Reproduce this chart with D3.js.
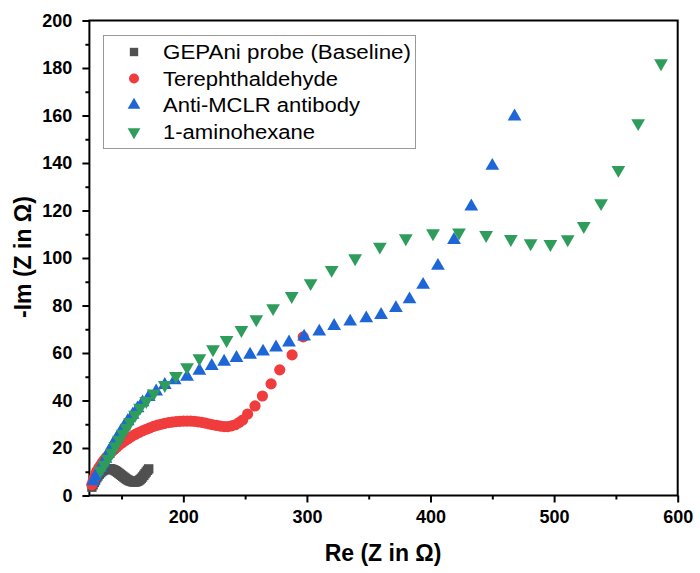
<!DOCTYPE html>
<html>
<head>
<meta charset="utf-8">
<script src="https://cdn.jsdelivr.net/npm/d3@7"></script>
<style>
  html, body { margin: 0; padding: 0; background: #fff; }
  svg { display: block; font-family: "Liberation Sans", Arial, sans-serif; }
</style>
</head>
<body>
<svg id="chart" width="700" height="573"></svg>
<script>
// ---- data (Re, -Im) ----
const seriesNames = ["GEPAni probe (Baseline)", "Terephthaldehyde", "Anti-MCLR antibody", "1-aminohexane"];

const baselineData = [[126,3.5],[127,4.5],[128,5.5],[129,6.5],[130,7.5],[131,8.3],[132,9],[133,9.6],[134,10.1],[135,10.5],[136,10.8],[137,11],[138,11.2],[139,11.3],[140,11.3],[141,11.2],[142,11.1],[143,10.9],[144,10.7],[145,10.4],[146,10.1],[147,9.7],[148,9.3],[149,8.9],[150,8.5],[151,8.1],[152,7.7],[153,7.3],[154,6.9],[155,6.6],[156,6.3],[157,6.1],[158,5.9],[159,5.8],[160,5.7],[161,5.7],[162,5.8],[163,6],[164,6.3],[165,6.7],[166,7.2],[167,7.8],[168,8.5],[169,9.2],[170,9.9],[171,10.6],[172,11.2]];

const terephData = [[126,4.5],[127,6],[128,7.5],[129,9],[130,10.2],[131.5,11.5],[133,12.7],[134.5,13.9],[136,15],[138,16.2],[140,17.3],[142,18.4],[144,19.4],[146,20.3],[148,21.2],[150.5,22.2],[153,23.1],[155.5,24],[158,24.8],[161,25.7],[164,26.5],[167,27.2],[170,27.9],[173,28.5],[176,29.1],[179,29.6],[182,30],[185,30.4],[188,30.7],[191,30.9],[194,31.1],[197,31.2],[200,31.3],[203,31.3],[206,31.3],[209,31.2],[212,31],[215,30.8],[218,30.5],[221,30.1],[224,29.8],[227,29.5],[230,29.2],[233,29],[236,29],[239,29.3],[242,29.8],[245,30.7],[248,31.8],[252,34.3],[258,37.7],[264,41.9],[271,47],[278,52.9],[288,59.2],[297,66.8]];

const antibodyData = [[127,6],[129,8],[131,10],[133,11.7],[135,13.5],[137,15.5],[139,17.5],[141,19.5],[143,21.5],[146,24],[149,26.5],[152,29],[155,31.3],[159,34],[163,36.7],[167,39.2],[172,41.5],[178,43.8],[185,46.5],[193,48.5],[203,50],[213,52.5],[223,54.5],[233,56.3],[243,57.9],[254,59.3],[264.5,60.6],[275,62.3],[285.5,64.4],[297.7,66.9],[310,69],[322,71.4],[335,73.2],[348,74.6],[360,76],[372,78.9],[383,82.6],[394,88.7],[406,96.7],[419,107.6],[433,121.7],[450,138.8],[468,159.6]];

const aminoData = [[133,10.5],[136,13],[139,15.5],[142,18],[145,20.8],[148,23.5],[151,26],[154,28.5],[157,31],[161,34],[165,37],[170,39.8],[176,43],[185,46.5],[194,50.3],[203,54],[213,57.8],[224,61.6],[235,65.5],[247,69.7],[259,74.2],[272.6,78.9],[287.7,84],[303,89.4],[320,95],[339,99.9],[359,104.8],[380,108.3],[402,110.4],[423,110.7],[445,109.7],[465,108],[481,106.2],[497,105.9],[511,107.9],[524,113.5],[538,123.1],[552,137.1],[568,156.8],[586.5,182]];

const xTicks = [200, 300, 400, 500, 600];
const xMinorTicks = [150, 250, 350, 450, 550];
const yTicks = [0, 20, 40, 60, 80, 100, 120, 140, 160, 180, 200];
const yMinorTicks = [10, 30, 50, 70, 90, 110, 130, 150, 170, 190];

const colors = ["#505050", "#f03c3c", "#1e66d8", "#2e9d5c"];

// ---- layout ----
const svg = d3.select("#chart");
const mLeft = 89.4, mRight = 677.7, mTop = 20.5, mBottom = 495.5;

const x = d3.scaleLinear().domain([124, 600]).range([mLeft, mRight]);
const y = d3.scaleLinear().domain([0, 200]).range([mBottom, mTop]);

// axes
const xAxis = svg.append("g").attr("transform", `translate(0,${mBottom})`)
  .call(d3.axisBottom(x).tickValues(xTicks).tickSize(7).tickPadding(8).tickFormat(d3.format("d")));
const xMinor = svg.append("g").attr("transform", `translate(0,${mBottom})`)
  .call(d3.axisBottom(x).tickValues(xMinorTicks).tickSize(4).tickFormat(""));
const yAxis = svg.append("g").attr("transform", `translate(${mLeft},0)`)
  .call(d3.axisLeft(y).tickValues(yTicks).tickSize(7).tickPadding(10).tickFormat(d3.format("d")));
const yMinor = svg.append("g").attr("transform", `translate(${mLeft},0)`)
  .call(d3.axisLeft(y).tickValues(yMinorTicks).tickSize(4).tickFormat(""));

[xAxis, xMinor, yAxis, yMinor].forEach(g => {
  g.select(".domain").remove();
  g.selectAll(".tick line").attr("stroke", "#000").attr("stroke-width", 2);
  g.selectAll("text").attr("font-family", "'Liberation Sans', Arial, sans-serif")
    .attr("font-size", 18).attr("font-weight", "bold").attr("fill", "#000");
});

// frame
svg.append("rect").attr("x", mLeft).attr("y", mTop)
  .attr("width", mRight - mLeft).attr("height", mBottom - mTop)
  .attr("fill", "none").attr("stroke", "#000").attr("stroke-width", 2);

// axis titles
svg.append("text").attr("x", (mLeft + mRight) / 2 - 0.5).attr("y", 561)
  .attr("text-anchor", "middle").attr("font-size", 23).attr("font-weight", "bold")
  .text("Re (Z in Ω)");
svg.append("text").attr("transform", `translate(31,257) rotate(-90)`)
  .attr("text-anchor", "middle").attr("font-size", 23).attr("font-weight", "bold")
  .text("-Im (Z in Ω)");

// markers
const plot = svg.append("g");
const sq = d3.symbol().type(d3.symbolSquare).size(88);
const tri = d3.symbol().type(d3.symbolTriangle).size(82);

plot.append("g").selectAll("path").data(baselineData).join("path")
  .attr("d", sq).attr("fill", colors[0])
  .attr("transform", d => `translate(${x(d[0])},${y(d[1])})`);

plot.append("g").selectAll("circle").data(terephData).join("circle")
  .attr("cx", d => x(d[0])).attr("cy", d => y(d[1])).attr("r", 5.6)
  .attr("fill", colors[1]);

plot.append("g").selectAll("path").data(antibodyData).join("path")
  .attr("d", tri).attr("fill", colors[2])
  .attr("transform", d => `translate(${x(d[0])},${y(d[1])})`);

plot.append("g").selectAll("path").data(aminoData).join("path")
  .attr("d", tri).attr("fill", colors[3])
  .attr("transform", d => `translate(${x(d[0])},${y(d[1])}) rotate(180)`);

// legend
const lg = svg.append("g");
lg.append("rect").attr("x", 103.5).attr("y", 35.5).attr("width", 312).attr("height", 113)
  .attr("fill", "#fff").attr("stroke", "#999").attr("stroke-width", 1);
const rowY = [52, 78.5, 105, 132];
const textLen = [248, 175, 197, 152];
const legSq = d3.symbol().type(d3.symbolSquare).size(70);
const legTri = d3.symbol().type(d3.symbolTriangle).size(70);
seriesNames.forEach((name, i) => {
  const cx = 134, cy = rowY[i];
  if (i === 0) lg.append("path").attr("d", legSq).attr("fill", colors[0]).attr("transform", `translate(${cx},${cy})`);
  if (i === 1) lg.append("circle").attr("cx", cx).attr("cy", cy).attr("r", 5).attr("fill", colors[1]);
  if (i === 2) lg.append("path").attr("d", legTri).attr("fill", colors[2]).attr("transform", `translate(${cx},${cy})`);
  if (i === 3) lg.append("path").attr("d", legTri).attr("fill", colors[3]).attr("transform", `translate(${cx},${cy}) rotate(180)`);
  lg.append("text").attr("x", 163).attr("y", cy).attr("dy", "0.36em")
    .attr("font-size", 20).attr("fill", "#000")
    .attr("textLength", textLen[i]).attr("lengthAdjust", "spacingAndGlyphs")
    .text(name);
});
</script>
</body>
</html>
